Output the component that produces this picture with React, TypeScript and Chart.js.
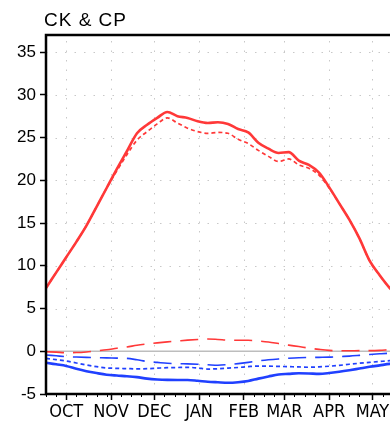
import React, { useEffect, useRef } from "react";
import { Chart, registerables } from "chart.js";

Chart.register(...registerables);

// days since Oct 1
const days = [0, 7, 14, 21, 28, 35, 42, 49, 56, 63, 70, 77, 84, 91, 98, 105, 112, 119, 126, 133, 140, 147, 154, 161, 168, 175, 182, 189, 196, 203, 210, 217, 224, 231, 238, 243];

const redSolid = [7.4, 9.2, 11.0, 12.8, 14.7, 16.9, 19.1, 21.3, 23.4, 25.5, 26.5, 27.3, 28.0, 27.5, 27.3, 26.9, 26.7, 26.8, 26.6, 26.0, 25.6, 24.4, 23.7, 23.2, 23.3, 22.3, 21.8, 20.9, 19.2, 17.3, 15.4, 13.2, 10.6, 8.9, 7.4, 6.6];
const redShortDash = [7.4, 9.2, 11.0, 12.8, 14.7, 16.9, 19.1, 21.1, 23.0, 24.7, 25.7, 26.6, 27.3, 26.7, 26.1, 25.7, 25.5, 25.6, 25.5, 24.8, 24.3, 23.5, 22.8, 22.2, 22.5, 21.8, 21.4, 20.6, 19.1, 17.3, 15.4, 13.2, 10.6, 8.9, 7.4, 6.6];
const redLongDash = [-0.05, -0.1, -0.16, -0.15, -0.08, 0.05, 0.18, 0.35, 0.5, 0.7, 0.85, 0.98, 1.1, 1.2, 1.3, 1.38, 1.44, 1.38, 1.3, 1.28, 1.28, 1.2, 1.08, 0.9, 0.72, 0.55, 0.37, 0.22, 0.1, 0.06, 0.06, 0.07, 0.07, 0.1, 0.2, 0.25];
const blueLongDash = [-0.43, -0.53, -0.63, -0.68, -0.72, -0.75, -0.77, -0.8, -0.83, -1.0, -1.2, -1.3, -1.4, -1.45, -1.48, -1.52, -1.58, -1.64, -1.56, -1.45, -1.3, -1.13, -1.0, -0.9, -0.82, -0.76, -0.73, -0.71, -0.69, -0.62, -0.57, -0.48, -0.38, -0.3, -0.23, -0.2];
const blueShortDash = [-0.83, -0.98, -1.14, -1.37, -1.6, -1.8, -1.95, -2.0, -2.03, -2.06, -2.04, -1.98, -1.92, -1.9, -1.88, -1.95, -2.08, -2.05, -1.97, -1.9, -1.8, -1.73, -1.74, -1.77, -1.8, -1.83, -1.87, -1.82, -1.75, -1.65, -1.52, -1.4, -1.3, -1.2, -1.1, -1.05];
const blueSolid = [-1.34, -1.53, -1.72, -2.05, -2.33, -2.55, -2.74, -2.84, -2.92, -3.03, -3.2, -3.3, -3.35, -3.36, -3.36, -3.45, -3.57, -3.63, -3.68, -3.62, -3.48, -3.2, -2.95, -2.72, -2.65, -2.58, -2.6, -2.64, -2.55, -2.4, -2.22, -2.02, -1.82, -1.65, -1.48, -1.4];

const monthTickDays = [14, 45, 75, 106, 137, 165, 196, 226];
const monthLabels = ["OCT", "NOV", "DEC", "JAN", "FEB", "MAR", "APR", "MAY"];
const yTicks = [-5, 0, 5, 10, 15, 20, 25, 30, 35];
const minorTickDays = [0, 7, 21, 28, 35, 42, 52, 59, 66, 82, 89, 96, 113, 120, 127, 144, 151, 158, 172, 179, 186, 203, 210, 217, 233, 240];

const RED = "#ff3838";
const BLUE = "#2040ff";

const pts = (vals: number[]) => vals.map((v, i) => ({ x: days[i], y: v }));

const framePlugin = {
  id: "frame",
  beforeDatasetsDraw(chart: any) {
    const { ctx, chartArea: a, scales } = chart;
    const xs = scales.x, ys = scales.y;
    ctx.save();
    ctx.strokeStyle = "#c8c8c8";
    ctx.lineWidth = 1;
    ctx.setLineDash([1.5, 8]);
    monthTickDays.forEach((d) => {
      const px = Math.round(xs.getPixelForValue(d)) + 0.5;
      ctx.beginPath();
      ctx.moveTo(px, a.bottom);
      ctx.lineTo(px, a.top);
      ctx.stroke();
    });
    yTicks.forEach((v) => {
      if (v === 0 || v === -5) return;
      const py = Math.round(ys.getPixelForValue(v)) + 0.5;
      ctx.beginPath();
      ctx.moveTo(a.left, py);
      ctx.lineTo(a.right, py);
      ctx.stroke();
    });
    ctx.setLineDash([]);
    ctx.strokeStyle = "#bdbdbd";
    ctx.lineWidth = 1.5;
    const z = ys.getPixelForValue(0);
    ctx.beginPath();
    ctx.moveTo(a.left, z);
    ctx.lineTo(a.right, z);
    ctx.stroke();
    ctx.restore();
  },
  afterDraw(chart: any) {
    const { ctx, chartArea: a, scales } = chart;
    const xs = scales.x;
    ctx.save();
    ctx.strokeStyle = "#000";
    ctx.lineWidth = 1;
    minorTickDays.forEach((d) => {
      const px = Math.round(xs.getPixelForValue(d)) + 0.5;
      ctx.beginPath();
      ctx.moveTo(px, a.bottom);
      ctx.lineTo(px, a.bottom + 3);
      ctx.stroke();
    });
    ctx.lineWidth = 2.5;
    ctx.beginPath();
    ctx.moveTo(a.right + 2, a.top);
    ctx.lineTo(a.left, a.top);
    ctx.lineTo(a.left, a.bottom);
    ctx.lineTo(a.right + 2, a.bottom);
    ctx.stroke();
    ctx.fillStyle = "#000";
    ctx.font = "19px 'Liberation Sans', Arial, sans-serif";
    (ctx as any).letterSpacing = "1px";
    ctx.textBaseline = "alphabetic";
    ctx.textAlign = "left";
    ctx.fillText("CK & CP", 44, 26);
    ctx.restore();
  },
};

export default function App() {
  const ref = useRef<HTMLCanvasElement>(null);
  useEffect(() => {
    const ds = (label: string, vals: number[], color: string, width: number, dash: number[]) => ({
      label,
      data: pts(vals),
      borderColor: color,
      borderWidth: width,
      borderDash: dash,
      pointRadius: 0,
      cubicInterpolationMode: "monotone" as const,
      fill: false,
    });
    const chart = new Chart(ref.current!, {
      type: "line",
      data: {
        datasets: [
          ds("red solid", redSolid, RED, 2.6, []),
          ds("red short dash", redShortDash, RED, 1.7, [4, 3]),
          ds("red long dash", redLongDash, RED, 1.6, [18, 9]),
          ds("blue long dash", blueLongDash, BLUE, 1.6, [18, 9]),
          ds("blue short dash", blueShortDash, BLUE, 1.7, [4, 3]),
          ds("blue solid", blueSolid, BLUE, 2.6, []),
        ],
      },
      options: {
        animation: false,
        responsive: false,
        maintainAspectRatio: false,
        layout: { padding: { top: 35, left: 0, right: 0, bottom: 0 } },
        plugins: { legend: { display: false }, tooltip: { enabled: false }, title: { display: false } },
        scales: {
          x: {
            type: "linear",
            min: 0,
            max: 243,
            afterBuildTicks: (axis: any) => {
              axis.ticks = monthTickDays.map((v) => ({ value: v }));
            },
            afterFit: (axis: any) => {
              axis.height = 27;
            },
            ticks: {
              autoSkip: false,
              maxRotation: 0,
              padding: 2,
              color: "#000",
              font: { family: "'Liberation Sans Narrow', 'DejaVu Sans Condensed', Arial, sans-serif", size: 18 },
              callback: (v: any) => {
                const i = monthTickDays.indexOf(Number(v));
                return i >= 0 ? monthLabels[i] : "";
              },
            },
            grid: { drawOnChartArea: false, tickColor: "#000", tickLength: 6, tickWidth: 1.5 },
            border: { display: false },
          },
          y: {
            min: -5,
            max: 37,
            afterBuildTicks: (axis: any) => {
              axis.ticks = yTicks.map((v) => ({ value: v }));
            },
            afterFit: (axis: any) => {
              axis.width = 46;
            },
            ticks: {
              padding: 4,
              color: "#000",
              font: { family: "'Liberation Sans', Arial, sans-serif", size: 17 },
            },
            grid: { drawOnChartArea: false, tickColor: "#000", tickLength: 6, tickWidth: 1.5 },
            border: { display: false },
          },
        },
      },
      plugins: [framePlugin],
    });
    return () => chart.destroy();
  }, []);
  return (
    <div style={{ position: "fixed", left: 0, top: 0, width: 390, height: 421, overflow: "hidden", background: "#fff" }}>
      <canvas ref={ref} width={397} height={421} style={{ display: "block" }} />
    </div>
  );
}
